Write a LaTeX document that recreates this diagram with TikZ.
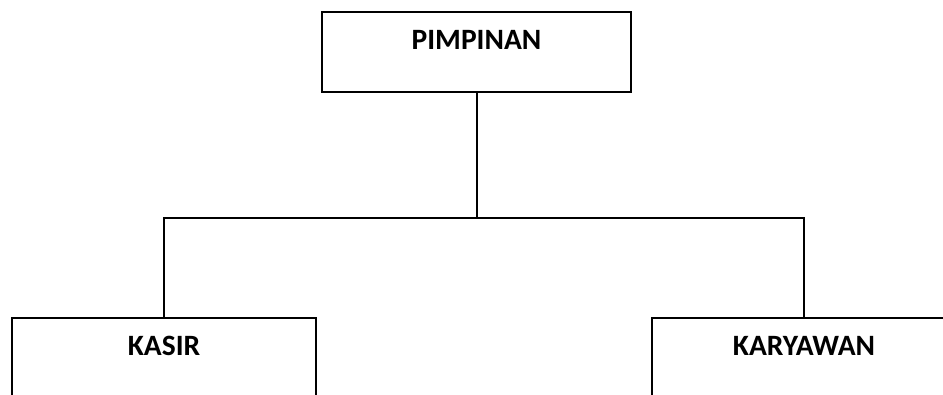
\documentclass[tikz,border=0pt]{standalone}
\usepackage{fontspec}
\setmainfont{Carlito}
\usetikzlibrary{positioning, calc}

\begin{document}
\begin{tikzpicture}[
    x=1pt, y=-1pt,
    unit/.style={draw, rectangle, line width=2pt, inner sep=0pt, minimum height=80pt},
    caption/.style={anchor=base, inner sep=0pt, font=\fontsize{29.5}{34}\selectfont\bfseries},
    link/.style={line width=2pt}
  ]
  \useasboundingbox (0,0) rectangle (943,395);
  \clip (0,0) rectangle (943,395);

  % Top box
  \node[unit, minimum width=309pt] (pim) at (476.5,52) {};
  \node[caption] (pimtxt) at ($(pim.north)+(0,38.5)$) {PIMPINAN};

  % Bottom boxes
  \node[unit, minimum width=304pt] (kasir) at (164,358) {};
  \node[caption] (kasirtxt) at ($(kasir.north)+(0,38.5)$) {KASIR};

  \node[unit, minimum width=304pt] (kary) at (804,358) {};
  \node[caption] (karytxt) at ($(kary.north)+(0,38.5)$) {KARYAWAN};

  % Connectors
  \coordinate (hub) at (pim.south |- 0,218);
  \draw[link] (pim.south) -- (hub);
  \draw[link] (hub) -| (kasir.north);
  \draw[link] (hub) -| (kary.north);
\end{tikzpicture}
\end{document}
